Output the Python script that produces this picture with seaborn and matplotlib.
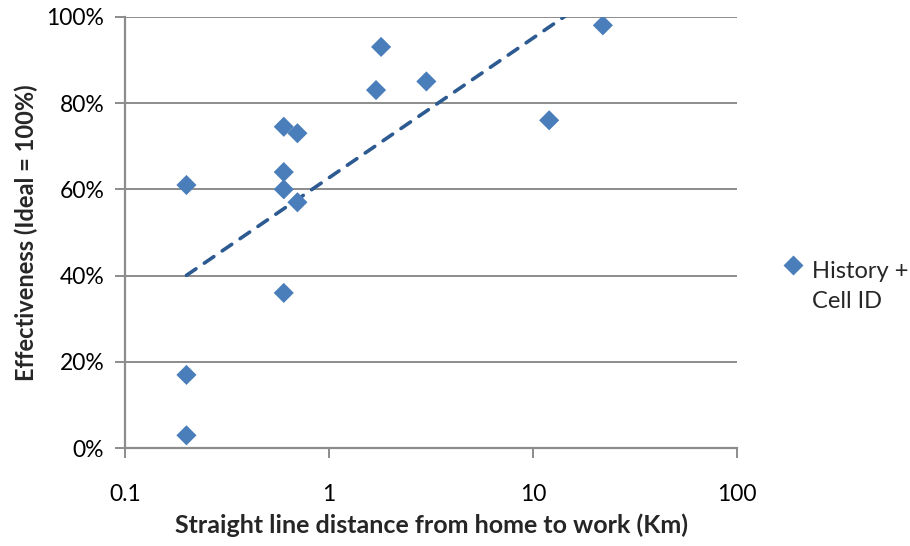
import numpy as np
import pandas as pd
import seaborn as sns
import matplotlib
matplotlib.use("Agg")
import matplotlib.pyplot as plt
from matplotlib.ticker import FuncFormatter, FixedLocator, NullLocator

# Data (distance km, effectiveness fraction)
distance = [0.2, 0.2, 0.2, 0.6, 0.6, 0.6, 0.6, 0.7, 0.7, 1.7, 1.8, 3.0, 12.0, 22.0]
effectiveness = [0.61, 0.17, 0.03, 0.745, 0.64, 0.60, 0.36, 0.73, 0.57, 0.83, 0.93, 0.85, 0.76, 0.98]
series_name = "History +\nCell ID"
x_ticks = [0.1, 1, 10, 100]
x_tick_labels = ["0.1", "1", "10", "100"]
y_ticks = [0, 0.2, 0.4, 0.6, 0.8, 1.0]

df = pd.DataFrame({"distance": distance, "effectiveness": effectiveness, "series": series_name})

sns.set_theme(style="white")
plt.rcParams["font.family"] = ["Lato", "DejaVu Sans"]

fig = plt.figure(figsize=(9.1, 5.46), dpi=100)
ax = fig.add_axes([0.1374, 0.179, 0.6725, 0.7904])

marker_color = "#4A7EBB"
trend_color = "#2C5A91"

# Logarithmic trendline (least squares on log x), as Excel does
coef = np.polyfit(np.log(df["distance"]), df["effectiveness"], 1)
xt = np.geomspace(min(distance), max(distance), 200)
yt = coef[0] * np.log(xt) + coef[1]
sns.lineplot(x=xt, y=yt, ax=ax, color=trend_color, lw=2.6, linestyle=(0, (3.2, 2.8)),
             legend=False, zorder=2)
for l in ax.lines:
    l.set_dash_capstyle("round")

sns.scatterplot(data=df, x="distance", y="effectiveness", hue="series", ax=ax,
                palette=[marker_color], marker="D", s=105, edgecolor="none", zorder=3)

ax.set_xscale("log")
ax.set_xlim(0.1, 100)
ax.set_ylim(0, 1.0)
ax.xaxis.set_major_locator(FixedLocator(x_ticks))
ax.xaxis.set_minor_locator(NullLocator())
ax.set_xticks(x_ticks)
ax.set_xticklabels(x_tick_labels)
ax.set_yticks(y_ticks)
ax.yaxis.set_major_formatter(FuncFormatter(lambda v, p: f"{int(round(v*100))}%"))

grid_color = "#8C8C8C"
ax.grid(False)
for yv in y_ticks[1:]:
    ax.axhline(yv, color=grid_color, lw=1.4, zorder=1)

for side in ["top", "right"]:
    ax.spines[side].set_visible(False)
for side in ["left", "bottom"]:
    ax.spines[side].set_color(grid_color)
    ax.spines[side].set_linewidth(1.6)

ax.tick_params(axis="both", which="major", direction="out", length=7, width=1.4,
               color=grid_color, labelsize=16.5, labelcolor="#000000", bottom=True, left=True)
ax.tick_params(axis="x", pad=19)
ax.tick_params(axis="y", pad=8)

ax.set_xlabel("Straight line distance from home to work (Km)", fontsize=18,
              fontweight="bold", labelpad=6)
ax.set_ylabel("Effectiveness (Ideal = 100%)", fontsize=17, fontweight="bold", labelpad=6)

fs_leg = 17
leg = ax.legend(loc="center left", bbox_to_anchor=(1.06, 0.375), frameon=False,
                fontsize=fs_leg, handlelength=0.8, handletextpad=0.4, borderaxespad=0)
for t in leg.get_texts():
    t.set_linespacing(1.55)
for h in leg.legend_handles:
    try:
        h.set_markeredgecolor("none")
        h.set_markersize(10.0)
        yd = np.asarray(h.get_ydata(), dtype=float)
        h.set_ydata(yd + 0.9 * fs_leg)
    except Exception:
        pass

fig.savefig("out.png", dpi=100)
